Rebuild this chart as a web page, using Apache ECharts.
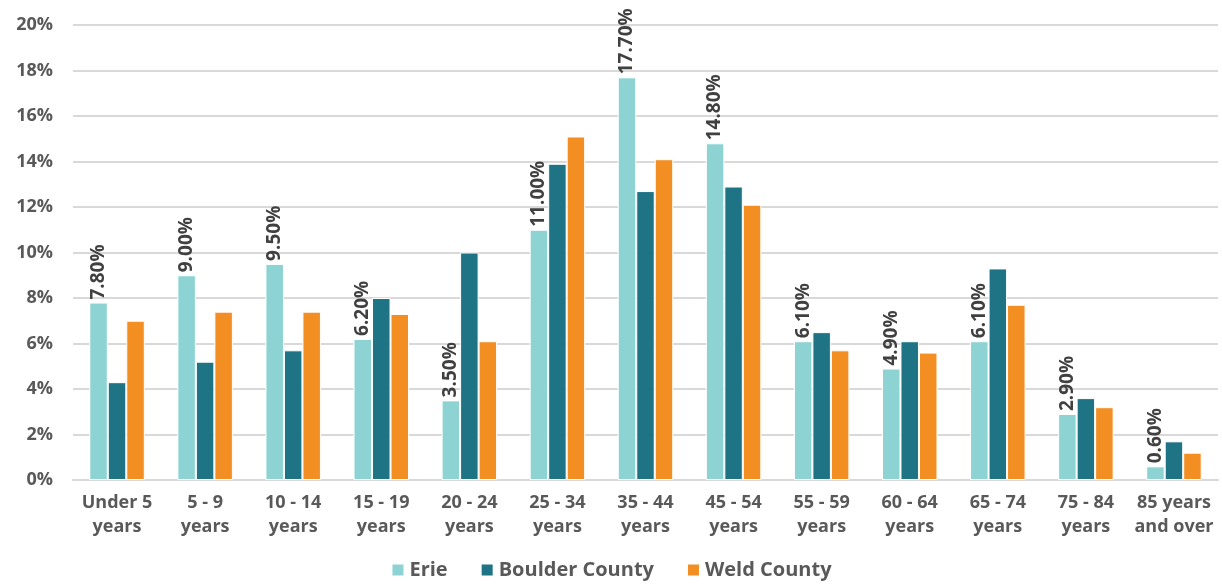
<!DOCTYPE html>
<html><head><meta charset="utf-8">
<script src="https://cdn.jsdelivr.net/npm/echarts@6/dist/echarts.min.js"></script>
<style>html,body{margin:0;padding:0;background:#fff}#c{width:1222px;height:585px}</style>
</head><body><div id="c"></div>
<script>
const categories = ["Under 5\nyears","5 - 9\nyears","10 - 14\nyears","15 - 19\nyears","20 - 24\nyears","25 - 34\nyears","35 - 44\nyears","45 - 54\nyears","55 - 59\nyears","60 - 64\nyears","65 - 74\nyears","75 - 84\nyears","85 years\nand over"];
const erie = [7.8, 9.0, 9.5, 6.2, 3.5, 11.0, 17.7, 14.8, 6.1, 4.9, 6.1, 2.9, 0.6];
const boulder = [4.3, 5.2, 5.7, 8.0, 10.0, 13.9, 12.7, 12.9, 6.5, 6.1, 9.3, 3.6, 1.7];
const weld = [7.0, 7.4, 7.4, 7.3, 6.1, 15.1, 14.1, 12.1, 5.7, 5.6, 7.7, 3.2, 1.2];
const seriesNames = ["Erie", "Boulder County", "Weld County"];
const colors = ["#8dd3d3", "#1e7385", "#f28e22"];
const FONT = "Open Sans";
const chart = echarts.init(document.getElementById('c'));
function mk(name, data, color, withLabel) {
  return {
    name, type: 'bar', data,
    barGap: '0%', barCategoryGap: '37%',
    itemStyle: { color, borderColor: '#fff', borderWidth: 1 },
    label: withLabel ? {
      show: true, position: 'top', rotate: 90, align: 'left', verticalAlign: 'middle',
      distance: 3, formatter: p => p.value.toFixed(2) + '%',
      fontFamily: FONT, fontWeight: 'bold', fontSize: 19, color: '#404040'
    } : { show: false }
  };
}
chart.setOption({
  animation: false,
  color: colors,
  grid: { left: 73, right: 4, top: 25, bottom: 105, containLabel: false },
  legend: {
    bottom: 0, left: 'center', itemWidth: 13, itemHeight: 13, itemGap: 32,
    icon: 'rect',
    textStyle: { fontFamily: FONT, fontWeight: 'bold', fontSize: 20, color: '#595959' },
    data: seriesNames
  },
  xAxis: {
    type: 'category', data: categories,
    axisLine: { lineStyle: { color: '#d9d9d9', width: 2 } },
    axisTick: { show: false },
    axisLabel: { interval: 0, fontFamily: FONT, fontWeight: 'bold', fontSize: 18, color: '#595959', lineHeight: 24, margin: 11 }
  },
  yAxis: {
    type: 'value', min: 0, max: 20, interval: 2,
    axisLine: { show: false }, axisTick: { show: false },
    splitLine: { lineStyle: { color: '#d9d9d9', width: 2 } },
    axisLabel: { formatter: '{value}%', fontFamily: FONT, fontWeight: 'bold', fontSize: 18, color: '#595959', margin: 20 }
  },
  series: [mk(seriesNames[0], erie, colors[0], true), mk(seriesNames[1], boulder, colors[1], false), mk(seriesNames[2], weld, colors[2], false)]
});
</script></body></html>
